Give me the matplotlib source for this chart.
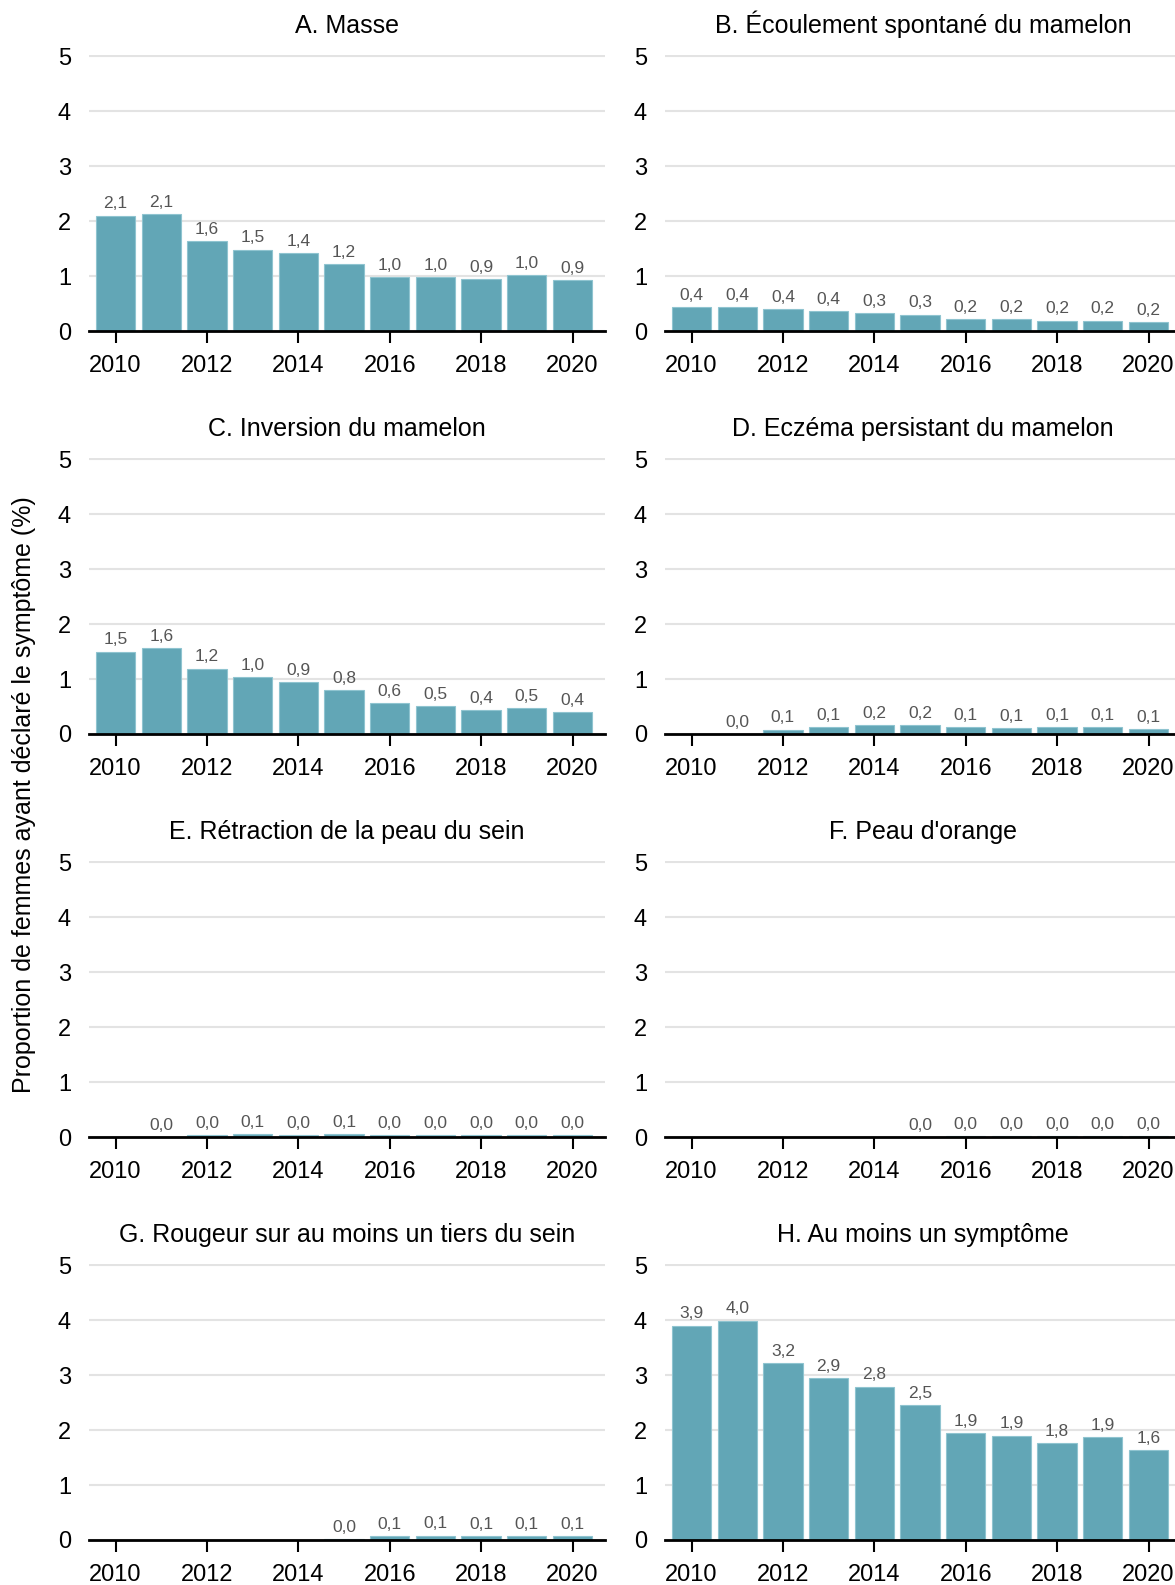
import numpy as np
import matplotlib.pyplot as plt

plt.rcParams["font.family"] = ["Liberation Sans", "DejaVu Sans"]

years = list(range(2010, 2021))

titles = [
    "A. Masse",
    "B. Écoulement spontané du mamelon",
    "C. Inversion du mamelon",
    "D. Eczéma persistant du mamelon",
    "E. Rétraction de la peau du sein",
    "F. Peau d'orange",
    "G. Rougeur sur au moins un tiers du sein",
    "H. Au moins un symptôme",
]

nan = np.nan
masse = [2.10, 2.12, 1.63, 1.48, 1.42, 1.22, 0.98, 0.98, 0.94, 1.01, 0.93]
ecoulement = [0.44, 0.44, 0.40, 0.36, 0.33, 0.30, 0.22, 0.21, 0.19, 0.19, 0.16]
inversion = [1.50, 1.57, 1.19, 1.04, 0.94, 0.80, 0.56, 0.51, 0.44, 0.47, 0.40]
eczema = [nan, 0.0, 0.08, 0.13, 0.16, 0.16, 0.12, 0.11, 0.12, 0.12, 0.09]
retraction = [nan, 0.0, 0.03, 0.06, 0.04, 0.06, 0.04, 0.03, 0.03, 0.04, 0.04]
peau_orange = [nan, nan, nan, nan, nan, 0.0, 0.01, 0.01, 0.01, 0.01, 0.01]
rougeur = [nan, nan, nan, nan, nan, 0.02, 0.07, 0.08, 0.07, 0.07, 0.07]
au_moins_un = [3.90, 3.99, 3.22, 2.94, 2.79, 2.46, 1.94, 1.90, 1.77, 1.87, 1.64]

series = [masse, ecoulement, inversion, eczema, retraction, peau_orange, rougeur, au_moins_un]

bar_color = "#62a6b6"
edge_color = "#8fc4d0"

fig = plt.figure(figsize=(11.75, 15.85), dpi=100)

W, H = 1175, 1585
lefts = [89, 665]
width = 516
zero_rows = [331, 734, 1137, 1540]
ax_h = 276

for i, (title, vals) in enumerate(zip(titles, series)):
    r, c = divmod(i, 2)
    ax = fig.add_axes([lefts[c] / W, 1 - zero_rows[r] / H, width / W, ax_h / H])
    vals = np.array(vals, dtype=float)
    ax.bar(years, vals, width=0.86, color=bar_color, edgecolor=edge_color,
           linewidth=0.8, zorder=3)
    for x, v in zip(years, vals):
        if np.isnan(v):
            continue
        ax.annotate(f"{v:.1f}".replace(".", ","), (x, v), xytext=(0, 3),
                    textcoords="offset points", ha="center", va="bottom",
                    fontsize=12.5, color="#555555", zorder=4)
    ax.set_xlim(2009.42, 2020.71)
    ax.set_ylim(0, 5.02)
    ax.set_yticks(range(0, 6))
    ax.set_xticks(range(2010, 2021, 2))
    ax.grid(axis="y", color="#e3e3e3", linewidth=1.5, zorder=0)
    for s in ["top", "right", "left"]:
        ax.spines[s].set_visible(False)
    ax.spines["bottom"].set_linewidth(2)
    ax.spines["bottom"].set_zorder(5)
    ax.tick_params(axis="y", length=0, pad=13, labelsize=17)
    ax.tick_params(axis="x", length=8.5, width=1.5, pad=9, labelsize=17,
                   direction="out")
    ax.set_title(title, fontsize=18, pad=16)

fig.text(24 / W, 1 - 795 / H, "Proportion de femmes ayant déclaré le symptôme (%)",
         rotation=90, ha="center", va="center", fontsize=18)

fig.savefig("out.png", dpi=100)
plt.close(fig)
